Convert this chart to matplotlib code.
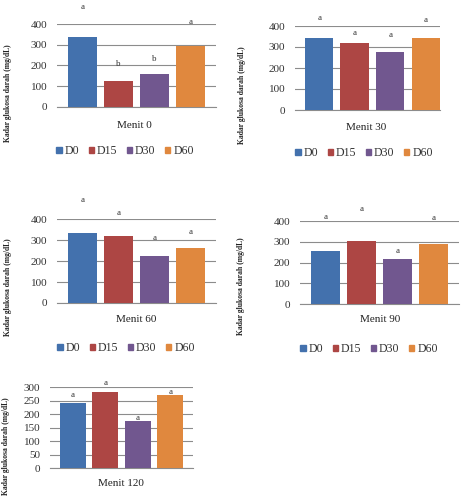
import matplotlib.pyplot as plt
from matplotlib.patches import Patch

plt.rcParams['font.family'] = ['Liberation Serif', 'DejaVu Serif']

W, H = 465, 498

groups = ['D0', 'D15', 'D30', 'D60']
colors = ['#4371ad', '#ad4644', '#71578f', '#e0883e']

menit = ['Menit 0', 'Menit 30', 'Menit 60', 'Menit 90', 'Menit 120']
glukosa = [
    [338, 127, 160, 295],
    [345, 318, 278, 345],
    [335, 318, 225, 260],
    [255, 305, 215, 287],
    [241, 281, 175, 269],
]
huruf = [
    ['a', 'b', 'b', 'a'],
    ['a', 'a', 'a', 'a'],
    ['a', 'a', 'a', 'a'],
    ['a', 'a', 'a', 'a'],
    ['a', 'a', 'a', 'a'],
]
# posisi huruf (dalam satuan sumbu y)
huruf_y = [
    [480, 205, 232, 408],
    [440, 365, 355, 428],
    [490, 430, 308, 336],
    [418, 458, 255, 414],
    [271, 316, 186, 282],
]
ymax = [400, 400, 400, 400, 300]
ystep = [100, 100, 100, 100, 50]

# kotak sumbu dalam piksel: kiri, atas, lebar, tinggi
kotak = [(57, 24, 159, 83), (295, 26, 145, 84), (57, 219, 159, 84),
         (300, 221, 159, 83), (50, 387, 143, 81)]
xlims = [(-0.7, 3.7), (-0.68, 3.4), (-0.7, 3.7), (-0.7, 3.7), (-0.7, 3.7)]
xlabel_pos = [(134, 125), (366, 127), (136, 320), (380, 320), (121, 483)]
ylabel_pos = [(8, 93), (242, 95), (8, 287), (241, 286), (6, 446)]
legend_pos = [(125, 151), (364, 153), (126, 348), (369, 349), None]

fig = plt.figure(figsize=(W / 100, H / 100), dpi=100)


def fx(x):
    return x / W


def fy(y):
    return 1 - y / H


for i in range(5):
    l, t, w, h = kotak[i]
    ax = fig.add_axes([fx(l), fy(t + h), w / W, h / H])
    x = range(len(groups))
    ax.bar(x, glukosa[i], width=0.8, color=colors, zorder=3)
    ax.set_xlim(*xlims[i])
    ax.set_ylim(0, ymax[i])
    ax.set_yticks(range(0, ymax[i] + 1, ystep[i]))
    ax.set_xticks([])
    ax.grid(axis='y', color='#8c8c8c', linewidth=0.8, zorder=0)
    for s in ['top', 'right', 'left']:
        ax.spines[s].set_visible(False)
    ax.spines['bottom'].set_color('#8c8c8c')
    ax.spines['bottom'].set_linewidth(0.8)
    ax.tick_params(axis='y', length=0, pad=7, labelsize=8, labelcolor='#333333')
    for j in x:
        ax.text(j, huruf_y[i][j], huruf[i][j], ha='center', va='center',
                fontsize=6.5, color='#333333', clip_on=False)

    fig.text(fx(xlabel_pos[i][0]), fy(xlabel_pos[i][1]), menit[i],
             ha='center', va='center', fontsize=8, color='#222222')
    fig.text(fx(ylabel_pos[i][0]), fy(ylabel_pos[i][1]),
             'Kadar glukosa darah (mg/dL)', rotation=90, ha='center',
             va='center', fontsize=5.5, fontweight='bold', color='#222222')

    if legend_pos[i] is not None:
        handles = [Patch(color=c, label=g) for c, g in zip(colors, groups)]
        ax.legend(handles=handles, loc='center', ncol=4, frameon=False,
                  bbox_to_anchor=(fx(legend_pos[i][0]), fy(legend_pos[i][1])),
                  bbox_transform=fig.transFigure, fontsize=8.5,
                  handlelength=0.45, handleheight=0.45, handletextpad=0.25,
                  columnspacing=0.8, labelcolor='#333333')

fig.savefig('out.png', dpi=100)
